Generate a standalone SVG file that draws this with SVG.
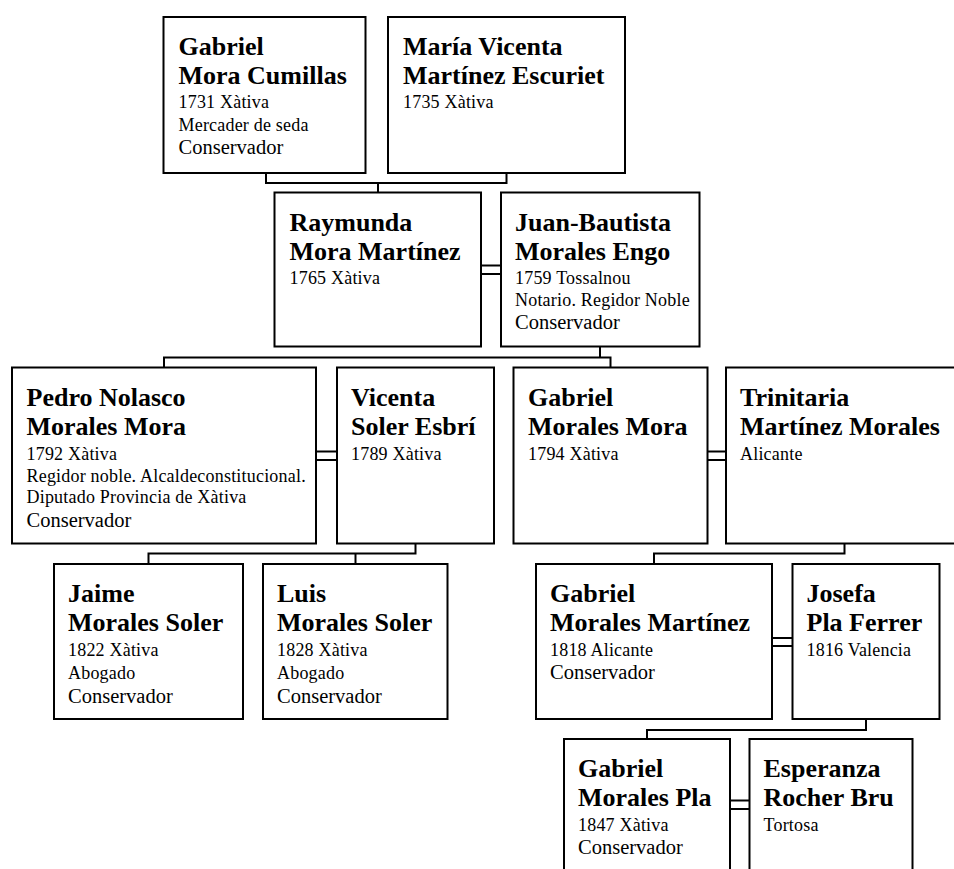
<svg xmlns="http://www.w3.org/2000/svg" width="954" height="869" viewBox="0 0 954 869">
<style>
rect.box{fill:#fff;stroke:#000;stroke-width:2}
.con{fill:none;stroke:#000;stroke-width:2}
text{font-family:"Liberation Serif","Times New Roman",serif;fill:#000}
.n{font-size:26px;font-weight:bold}
.s{font-size:18px;letter-spacing:0.2px}
.c{font-size:20.5px}
</style>
<rect width="954" height="869" fill="#fff"/>
<g id="connectors">
<polyline class="con" points="266,173 266,183 506.5,183 506.5,173"/>
<line class="con" x1="378" y1="183" x2="378" y2="192.5"/>
<line class="con" x1="481" y1="265.5" x2="501" y2="265.5"/>
<line class="con" x1="481" y1="274" x2="501" y2="274"/>
<line class="con" x1="600" y1="346.5" x2="600" y2="357.5"/>
<polyline class="con" points="164,367.5 164,357.5 610.5,357.5 610.5,367.5"/>
<line class="con" x1="316" y1="451.5" x2="337" y2="451.5"/>
<line class="con" x1="316" y1="460" x2="337" y2="460"/>
<line class="con" x1="707.5" y1="451.5" x2="726" y2="451.5"/>
<line class="con" x1="707.5" y1="460" x2="726" y2="460"/>
<polyline class="con" points="415.5,543.5 415.5,553.5 148.5,553.5 148.5,564"/>
<line class="con" x1="355.5" y1="553.5" x2="355.5" y2="564"/>
<polyline class="con" points="844.5,543.5 844.5,553.5 654,553.5 654,564"/>
<line class="con" x1="772" y1="638" x2="792.5" y2="638"/>
<line class="con" x1="772" y1="646" x2="792.5" y2="646"/>
<polyline class="con" points="866,719 866,730 647,730 647,739"/>
<line class="con" x1="730" y1="800.5" x2="749.5" y2="800.5"/>
<line class="con" x1="730" y1="809" x2="749.5" y2="809"/>
</g>
<g id="gabriel-mora-cumillas">
<rect class="box" x="163.5" y="17" width="202" height="156"/>
<text class="n" x="178.5" y="55">Gabriel</text>
<text class="n" x="178.5" y="84">Mora Cumillas</text>
<text class="s" x="178.5" y="108">1731 Xàtiva</text>
<text class="s" x="178.5" y="131">Mercader de seda</text>
<text class="c" x="178.5" y="154">Conservador</text>
</g>
<g id="maria-vicenta">
<rect class="box" x="388" y="17" width="237" height="156"/>
<text class="n" x="403" y="55">María Vicenta</text>
<text class="n" x="403" y="84">Martínez Escuriet</text>
<text class="s" x="403" y="108">1735 Xàtiva</text>
</g>
<g id="raymunda">
<rect class="box" x="274.5" y="192.5" width="206.5" height="154"/>
<text class="n" x="289.5" y="230.5">Raymunda</text>
<text class="n" x="289.5" y="259.5">Mora Martínez</text>
<text class="s" x="289.5" y="283.5">1765 Xàtiva</text>
</g>
<g id="juan-bautista">
<rect class="box" x="501" y="192.5" width="198.5" height="154"/>
<text class="n" x="515" y="230.5">Juan-Bautista</text>
<text class="n" x="515" y="259.5">Morales Engo</text>
<text class="s" x="515" y="283.5">1759 Tossalnou</text>
<text class="s" x="515" y="306">Notario. Regidor Noble</text>
<text class="c" x="515" y="329">Conservador</text>
</g>
<g id="pedro-nolasco">
<rect class="box" x="12" y="367.5" width="304" height="176"/>
<text class="n" x="26.5" y="405.5">Pedro Nolasco</text>
<text class="n" x="26.5" y="434.5">Morales Mora</text>
<text class="s" x="26.5" y="459.5">1792 Xàtiva</text>
<text class="s" x="26.5" y="482">Regidor noble. Alcaldeconstitucional.</text>
<text class="s" x="26.5" y="503">Diputado Provincia de Xàtiva</text>
<text class="c" x="26.5" y="527">Conservador</text>
</g>
<g id="vicenta-soler">
<rect class="box" x="337" y="367.5" width="157" height="176"/>
<text class="n" x="351" y="405.5">Vicenta</text>
<text class="n" x="351" y="434.5">Soler Esbrí</text>
<text class="s" x="351" y="459.5">1789 Xàtiva</text>
</g>
<g id="gabriel-morales-mora">
<rect class="box" x="513.5" y="367.5" width="194" height="176"/>
<text class="n" x="528" y="405.5">Gabriel</text>
<text class="n" x="528" y="434.5">Morales Mora</text>
<text class="s" x="528" y="459.5">1794 Xàtiva</text>
</g>
<g id="trinitaria">
<rect class="box" x="726" y="367.5" width="237" height="176"/>
<text class="n" x="740" y="405.5">Trinitaria</text>
<text class="n" x="740" y="434.5">Martínez Morales</text>
<text class="s" x="740" y="459.5">Alicante</text>
</g>
<g id="jaime">
<rect class="box" x="54" y="564" width="189" height="155"/>
<text class="n" x="68" y="602">Jaime</text>
<text class="n" x="68" y="631">Morales Soler</text>
<text class="s" x="68" y="656">1822 Xàtiva</text>
<text class="s" x="68" y="679">Abogado</text>
<text class="c" x="68" y="703">Conservador</text>
</g>
<g id="luis">
<rect class="box" x="263" y="564" width="184.5" height="155"/>
<text class="n" x="277" y="602">Luis</text>
<text class="n" x="277" y="631">Morales Soler</text>
<text class="s" x="277" y="656">1828 Xàtiva</text>
<text class="s" x="277" y="679">Abogado</text>
<text class="c" x="277" y="703">Conservador</text>
</g>
<g id="gabriel-morales-martinez">
<rect class="box" x="536" y="564" width="236" height="155"/>
<text class="n" x="550" y="602">Gabriel</text>
<text class="n" x="550" y="631">Morales Martínez</text>
<text class="s" x="550" y="656">1818 Alicante</text>
<text class="c" x="550" y="679">Conservador</text>
</g>
<g id="josefa">
<rect class="box" x="792.5" y="564" width="147" height="155"/>
<text class="n" x="806.5" y="602">Josefa</text>
<text class="n" x="806.5" y="631">Pla Ferrer</text>
<text class="s" x="806.5" y="656">1816 Valencia</text>
</g>
<g id="gabriel-morales-pla">
<rect class="box" x="564" y="739" width="166" height="132"/>
<text class="n" x="578" y="777">Gabriel</text>
<text class="n" x="578" y="806">Morales Pla</text>
<text class="s" x="578" y="831">1847 Xàtiva</text>
<text class="c" x="578" y="854">Conservador</text>
</g>
<g id="esperanza">
<rect class="box" x="749.5" y="739" width="163" height="132"/>
<text class="n" x="763.5" y="777">Esperanza</text>
<text class="n" x="763.5" y="806">Rocher Bru</text>
<text class="s" x="763.5" y="831">Tortosa</text>
</g>
</svg>
